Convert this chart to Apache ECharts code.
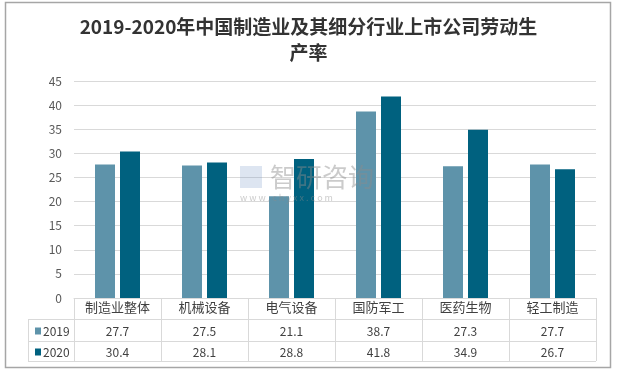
<!DOCTYPE html>
<html><head><meta charset="utf-8">
<script src="https://cdn.jsdelivr.net/npm/echarts@6/dist/echarts.min.js"></script>
<style>html,body{margin:0;padding:0;background:#fff}#c{width:617px;height:371px}</style>
</head><body><div id="c"></div>
<script>
const categories = ['制造业整体','机械设备','电气设备','国防军工','医药生物','轻工制造'];
const seriesNames = ['2019','2020'];
const values2019 = [27.7, 27.5, 21.1, 38.7, 27.3, 27.7];
const values2020 = [30.4, 28.1, 28.8, 41.8, 34.9, 26.7];
const yTicks = [0,5,10,15,20,25,30,35,40,45];
const colors = ['#5E93AA', '#00617F'];
const titleText = '2019-2020年中国制造业及其细分行业上市公司劳动生\n产率';

const FONT = '"Noto Sans CJK SC","Noto Sans",sans-serif';
const chart = echarts.init(document.getElementById('c'));
const gridL = 74, gridR = 596, gridT = 81, gridB = 298;
chart.setOption({
  animation: false,
  title: {text: titleText, left: 'center', top: 9, textStyle: {fontFamily: FONT, fontSize: 19, fontWeight: 'bold', color: '#333', lineHeight: 26}},
  grid: {left: gridL, right: 617 - gridR, top: gridT, bottom: 371 - gridB},
  xAxis: {type: 'category', data: categories,
    axisLine: {lineStyle: {color: '#D9D9D9'}},
    axisTick: {show: true, interval: 0, length: 63, lineStyle: {color: '#D9D9D9'}},
    axisLabel: {color: '#404040', fontSize: 13, fontFamily: FONT, margin: 3, interval: 0}},
  yAxis: {type: 'value', min: yTicks[0], max: yTicks[yTicks.length-1], interval: yTicks[1]-yTicks[0],
    axisLine: {show: false}, axisTick: {show: false},
    splitLine: {lineStyle: {color: '#D9D9D9'}},
    axisLabel: {color: '#595959', fontSize: 12, fontFamily: FONT, margin: 12}},
  series: [
    {name: seriesNames[0], type: 'bar', data: values2019, barWidth: 20, barGap: '25%', itemStyle: {color: colors[0]}},
    {name: seriesNames[1], type: 'bar', data: values2020, barWidth: 20, itemStyle: {color: colors[1]}}
  ]
});

// data table under the axis
const rowY = [319, 341, 361];
const g = [];
const line = (x1,y1,x2,y2) => g.push({type:'line', shape:{x1,y1,x2,y2}, style:{stroke:'#D9D9D9', lineWidth:1}, silent:true});
rowY.forEach(y => line(28, y + 0.5, gridR, y + 0.5));
line(28.5, rowY[0], 28.5, rowY[2]);
const rows = [values2019, values2020];
rows.forEach((vals, r) => {
  const cy = (rowY[r] + rowY[r+1]) / 2 + 1;
  g.push({type:'rect', shape:{x:35, y:cy-3.5, width:6, height:7}, style:{fill:colors[r]}, silent:true});
  g.push({type:'text', x:43, y:cy, style:{text:seriesNames[r], fill:'#404040', font:'12px ' + FONT, textVerticalAlign:'middle'}, silent:true});
  vals.forEach((v, i) => {
    const px = chart.convertToPixel({xAxisIndex:0}, categories[i]);
    g.push({type:'text', x:px, y:cy, style:{text:v.toFixed(1), fill:'#404040', font:'12px ' + FONT, textAlign:'center', textVerticalAlign:'middle'}, silent:true});
  });
});
// watermark (drawn above the bars)
g.push({type:'text', z:20, x:270, y:177, style:{text:'智研咨询', fill:'rgba(140,140,140,0.45)', font:'26px ' + FONT, textVerticalAlign:'middle'}, silent:true});
g.push({type:'text', z:20, x:240, y:198, style:{text:'w w w . c h y x x . c o m', fill:'rgba(140,140,140,0.45)', font:'9px ' + FONT, textVerticalAlign:'middle'}, silent:true});
g.push({type:'rect', z:20, shape:{x:240, y:166, width:22, height:22}, style:{fill:'rgba(120,150,200,0.25)'}, silent:true});
// outer border
g.push({type:'rect', shape:{x:5.5, y:2.5, width:605, height:365}, style:{fill:'none', stroke:'#A6A6A6', lineWidth:1.5}, silent:true});
chart.setOption({graphic: g});
</script></body></html>
